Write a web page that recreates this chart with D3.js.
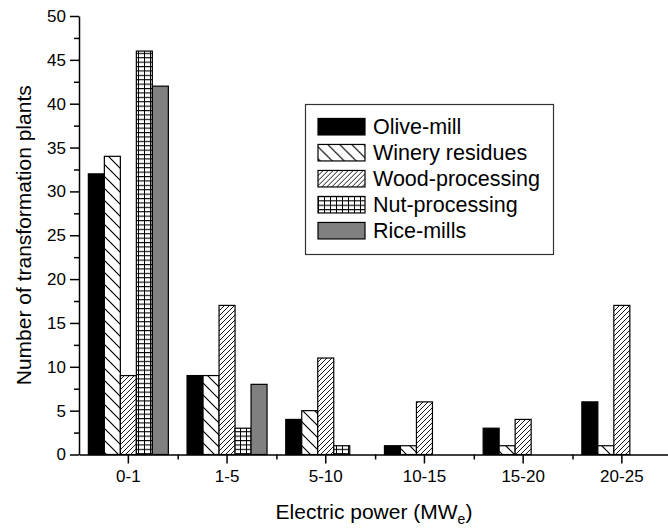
<!DOCTYPE html>
<html>
<head>
<meta charset="utf-8">
<script src="https://cdn.jsdelivr.net/npm/d3@7/dist/d3.min.js"></script>
<style>
  html, body { margin: 0; padding: 0; background: #fff; }
  svg { display: block; font-family: "Liberation Sans", Arial, sans-serif; }
</style>
</head>
<body>
<svg id="chart" width="668" height="531"></svg>
<script>
// Power-size classes of the plants
const categories = ["0-1", "1-5", "5-10", "10-15", "15-20", "20-25"];
const series = ["Olive-mill", "Winery residues", "Wood-processing", "Nut-processing", "Rice-mills"];

// Number of plants per residue type and power class
const oliveMill      = [32, 9, 4, 1, 3, 6];
const wineryResidues = [34, 9, 5, 1, 1, 1];
const woodProcessing = [9, 17, 11, 6, 4, 17];
const nutProcessing  = [46, 3, 1, 0, 0, 0];
const riceMills      = [42, 8, 0, 0, 0, 0];

const yTicks = [0, 5, 10, 15, 20, 25, 30, 35, 40, 45, 50];
const yMinorTicks = [2.5, 7.5, 12.5, 17.5, 22.5, 27.5, 32.5, 37.5, 42.5, 47.5];

const valuesBySeries = [oliveMill, wineryResidues, woodProcessing, nutProcessing, riceMills];

const svg = d3.select("#chart");
const font = '"Liberation Sans", Arial, sans-serif';

// plot geometry
const plotLeft = 79, plotBottom = 454.5, plotTop = 16;
const bandW = 98.7;
const groupW = 80;

const x0 = d3.scaleBand().domain(categories).range([plotLeft, plotLeft + bandW * categories.length]).padding(0);
const xEdges = d3.scaleLinear().domain([0, categories.length]).range([plotLeft, plotLeft + bandW * categories.length]);
const inset = (x0.bandwidth() - groupW) / 2;
const x1 = d3.scaleBand().domain(series).range([inset, inset + groupW]).padding(0);
const y = d3.scaleLinear().domain([0, 50]).range([plotBottom, plotTop]);

// fill patterns
const defs = svg.append("defs");
function pattern(id, w, h, d, sw) {
  const p = defs.append("pattern").attr("id", id)
    .attr("patternUnits", "userSpaceOnUse").attr("width", w).attr("height", h);
  p.append("rect").attr("width", w).attr("height", h).attr("fill", "#fff");
  p.append("path").attr("d", d).attr("stroke", "#000").attr("stroke-width", sw).attr("fill", "none");
}
pattern("back", 12, 12, "M0,0 L12,12 M-3,9 L3,15 M9,-3 L15,3", 1.2);
pattern("fwd", 5, 5, "M0,5 L5,0 M-1,1 L1,-1 M4,6 L6,4", 0.9);
pattern("grid", 6, 4.4, "M0.5,0 V4.4 M0,0.5 H6", 1);

const fills = {
  "Olive-mill": "#000",
  "Winery residues": "url(#back)",
  "Wood-processing": "url(#fwd)",
  "Nut-processing": "url(#grid)",
  "Rice-mills": "#808080"
};

// bars
const barData = [];
series.forEach((s, si) => {
  categories.forEach((c, ci) => {
    const v = valuesBySeries[si][ci];
    if (v > 0) barData.push({ s, c, v });
  });
});

svg.append("g").selectAll("rect").data(barData).join("rect")
  .attr("x", d => x0(d.c) + x1(d.s))
  .attr("y", d => y(d.v))
  .attr("width", x1.bandwidth())
  .attr("height", d => y(0) - y(d.v))
  .attr("fill", d => fills[d.s])
  .attr("stroke", "#000")
  .attr("stroke-width", 1.2);

// y axis
svg.append("g").attr("transform", `translate(${plotLeft},0)`)
  .call(d3.axisLeft(y).tickValues(yTicks).tickSize(9).tickSizeOuter(0).tickPadding(4));
svg.append("g").attr("transform", `translate(${plotLeft},0)`)
  .call(d3.axisLeft(y).tickValues(yMinorTicks).tickSize(5).tickFormat(""))
  .call(g => g.select(".domain").remove());

// x axis
svg.append("g").attr("transform", `translate(0,${plotBottom})`)
  .call(d3.axisBottom(x0).tickSize(9).tickSizeOuter(0).tickPadding(6));
svg.append("g").attr("transform", `translate(0,${plotBottom})`)
  .call(d3.axisBottom(xEdges).tickValues([1, 2, 3, 4, 5]).tickSize(5).tickFormat(""))
  .call(g => g.select(".domain").remove());

svg.selectAll(".domain, .tick line").attr("stroke", "#000").attr("stroke-width", 1.5);
svg.selectAll(".tick text").attr("font-family", font).attr("font-size", 17).attr("fill", "#000");

// axis titles
svg.append("text")
  .attr("transform", `translate(31,${(plotTop + plotBottom) / 2}) rotate(-90)`)
  .attr("text-anchor", "middle")
  .attr("font-family", font).attr("font-size", 21)
  .text("Number of transformation plants");

const xt = svg.append("text")
  .attr("x", 374).attr("y", 519)
  .attr("text-anchor", "middle")
  .attr("font-family", font).attr("font-size", 21);
xt.append("tspan").text("Electric power (MW");
xt.append("tspan").attr("font-size", 14).attr("dy", 5).text("e");
xt.append("tspan").attr("dy", -5).text(")");

// legend
const legend = svg.append("g");
legend.append("rect")
  .attr("x", 305.5).attr("y", 104.5).attr("width", 248).attr("height", 150)
  .attr("fill", "#fff").attr("stroke", "#333").attr("stroke-width", 1.2);
const rowY = d3.scalePoint().domain(series).range([126.7, 230.7]);
const rows = legend.selectAll("g.row").data(series).join("g").attr("class", "row")
  .attr("transform", d => `translate(0,${rowY(d)})`);
rows.append("rect")
  .attr("x", 318).attr("y", -8.25).attr("width", 47).attr("height", 16.5)
  .attr("fill", d => fills[d]).attr("stroke", "#000").attr("stroke-width", 1.2);
rows.append("text")
  .attr("x", 373).attr("dy", "0.36em")
  .attr("font-family", font).attr("font-size", 21.5)
  .text(d => d);
</script>
</body>
</html>
